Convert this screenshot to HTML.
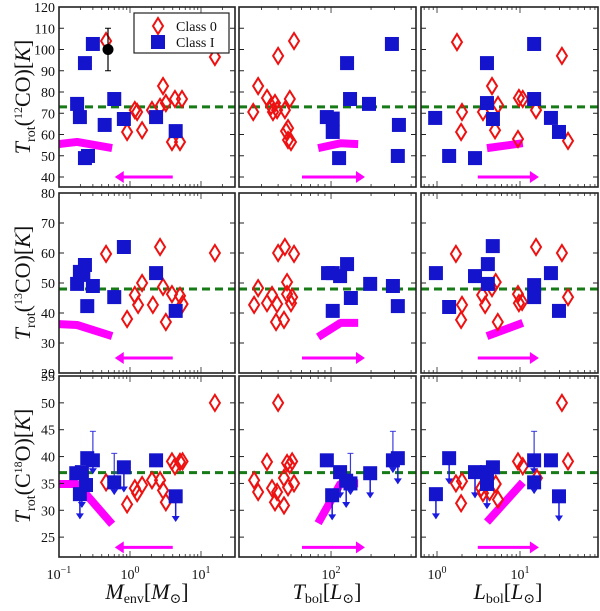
<!DOCTYPE html>
<html><head><meta charset="utf-8"><style>
body{margin:0;background:#fff;}
svg text{font-family:"Liberation Serif","DejaVu Serif",serif;fill:#111;}
</style></head><body>
<svg id="chart" width="600" height="606" viewBox="0 0 600 606" xmlns="http://www.w3.org/2000/svg">
<g id="layer"></g>
</svg>
<script>
// ---------- data ----------
// Row 1: 12CO
const p11_c0_x=[0.46,0.91,1.17,1.26,1.48,2.04,2.65,2.92,3.2,3.9,4.3,5.06,5.4,15.7];
const p11_c0_y=[104,61.2,71.5,70.6,62,71.5,73,82.8,74.8,56.5,76.7,56.5,76.7,96.5];
const p11_c1_x=[0.18,0.197,0.232,0.232,0.256,0.3,0.44,0.6,0.82,2.33,4.4];
const p11_c1_y=[74.4,68.2,93.6,48.9,49.9,102.6,64.5,76.7,67.3,68.2,61.6];
const p12_c0_x=[26,28.3,33,35.4,36.6,37.9,39.3,40,45,45.9,47.5,47.5,50,49,52.7];
const p12_c0_y=[70.6,82.8,77.2,73.4,70.6,74.8,71.5,97,71.5,61.6,63,57.4,56.5,76.7,104];
const p12_c1_x=[93,103,103,115,132,139,193,287,324,318];
const p12_c1_y=[68.2,67.5,61.2,48.9,93.6,76.7,74.4,102.6,64.5,49.9];
const p13_c0_x=[1.74,2.0,1.95,3.58,4.6,5.0,5.43,9.46,9.7,10.8,15.6,32,37.9];
const p13_c0_y=[103.5,70.6,61.2,70.6,82.8,62,73.9,57.9,77.2,76.7,71.5,97,57];
const p13_c1_x=[0.95,1.4,2.87,4.0,4.0,4.72,14.8,14.8,23.6,29.5];
const p13_c1_y=[67.8,49.9,48.9,93.6,74.8,67.3,102.6,76.7,67.8,61.2];
// Row 2: 13CO
const p21_c0_x=[0.46,0.91,1.17,1.3,1.48,2.1,2.65,2.92,3.2,3.9,5.06,5.5,15.7];
const p21_c0_y=[59.7,38,46,42.7,50,42.7,62,48.7,37,46.3,45.7,43,60];
const p21_c1_x=[0.18,0.197,0.232,0.22,0.25,0.3,0.6,0.82,2.33,4.4];
const p21_c1_y=[49.7,53.7,56,52.7,42.3,49,45.3,62,53.3,40.7];
const p22_c0_x=[26.4,28.3,33,36,39.3,38.6,40,44.3,45,46.7,46.7,50,51,52.7];
const p22_c0_y=[42.7,48.3,43.3,46,43,37,60,37.7,62,50.3,46.3,43.3,45.3,59.7];
const p22_c1_x=[95,103,117,132,103,141,197,292,318];
const p22_c1_y=[53.3,53.3,52.3,56.3,40.7,45,49.7,49,42.3];
const p23_c0_x=[1.69,2.0,1.95,3.5,3.8,4.6,5.1,5.4,9.46,9.7,10.6,15.6,32,37.9];
const p23_c0_y=[59.7,42.7,37.7,46,42.7,48.3,50.3,37,46.3,43.3,43.7,62,60,45.3];
const p23_c1_x=[0.97,1.4,2.87,4.1,4.1,4.7,14.8,14.8,23.6,29.5];
const p23_c1_y=[53.3,42,52.3,56.3,49.7,62.3,49.3,45.3,53.3,40.7];
// Row 3: C18O (class I: value, lower arrow end, upper error end)
const p31_c0_x=[0.46,0.91,1.17,1.26,1.48,2.04,2.65,2.92,3.2,3.9,4.3,5.06,5.5,15.7];
const p31_c0_y=[35.2,31.1,34.1,33.2,34.7,35.6,35.6,33.7,31.5,39.1,38.2,39,39.1,50];
const p31_c1_x=[0.175,0.21,0.197,0.24,0.25,0.3,0.6,0.82,2.33,4.4];
const p31_c1_y=[36.9,37.1,33,34.7,39.7,39.3,35.2,38,39.3,32.6];
const p31_c1_lo=[null,30.6,28.5,null,null,36.9,33,33.5,null,28];
const p31_c1_hi=[null,null,null,null,null,44.7,40.6,null,null,null];
const p32_c0_x=[26.4,28.3,33,36,39.3,37.9,40,44.3,44.3,46.7,47.5,49,51,52.7];
const p32_c0_y=[35.6,33.4,39,34.1,33.4,31.5,50,30.9,36,38.8,34.3,38.4,39.1,35];
const p32_c1_x=[93,117,102,130,140,197,292,318];
const p32_c1_y=[39.3,37.1,32.8,35.5,35,36.9,39.3,39.7];
const p32_c1_lo=[null,32.4,28.3,30.6,33,32.4,37.1,35];
const p32_c1_hi=[null,null,null,null,40.6,null,44.7,null];
const p33_c0_x=[1.69,2.0,1.95,3.4,3.58,4.3,5.1,5.43,9.46,10.8,16,32,37.9];
const p33_c0_y=[35,35.4,31.3,34.1,33.2,33.4,34.9,32,39.1,38.2,36,50,39.1];
const p33_c1_x=[0.97,1.4,2.87,4.0,4.0,4.72,14.8,14.8,23.6,29.5];
const p33_c1_y=[33,39.7,37.1,37.1,34.9,38,39.3,35.2,39.3,32.6];
const p33_c1_lo=[28.5,35,32.4,30.4,33.7,null,36.9,33.2,null,28.1];
const p33_c1_hi=[null,null,null,null,null,null,44.7,null,null,null];
// model bands and arrows
const band_col1_x=[0.1,0.18,0.56], band_col2_x=[80,118,160], band_col3_x=[4.0,10.8];
const band_r1c1_y=[55.5,56.5,53.6], band_r1c2_y=[53.6,55.9,55.5], band_r1c3_y=[53.6,55.9];
const band_r2c1_y=[36.3,36,32.3], band_r2c2_y=[32,36.7,36.7], band_r2c3_y=[32.3,36.7];
const band_r3c1_y=[34.9,34.9,27.4], band_r3c2_y=[27.6,35,35], band_r3c3_y=[27.8,35.2];
const arrow_x=[[4.0,0.61],[60.5,180],[3.1,16.9]];
const arrow_y=[40,25,23.1];
const mean_y=[73,48,37];
const ref_point_x=[0.49], ref_point_y=[100], ref_point_err=[10];
const yTicks=[[40,50,60,70,80,90,100,110,120],[20,30,40,50,60,70,80],[25,30,35,40,45,50,55]];
const xTickExp=[[-1,0,1],[2],[0,1]];
// ---------- layout ----------
const cols=[[59,235],[239,416],[421,598]];
const rows=[[7,187],[193,373],[376,557]];
const xDom=[[-1,1.479],[1.308,2.639],[-0.193,1.94]];
const yDom=[[35.3,120],[20,80],[21.3,55]];
const NS='http://www.w3.org/2000/svg';
const layer=document.getElementById('layer');
function mk(tag,attrs,parent){const e=document.createElementNS(NS,tag);for(const k in attrs)e.setAttribute(k,attrs[k]);(parent||layer).appendChild(e);return e;}
function xs(c,v){const d=xDom[c];return cols[c][0]+(Math.log10(v)-d[0])/(d[1]-d[0])*(cols[c][1]-cols[c][0]);}
function ys(r,v){const d=yDom[r];return rows[r][1]-(v-d[0])/(d[1]-d[0])*(rows[r][1]-rows[r][0]);}
const RED='#ee1111',BLUE='#1414cc',MAG='#ff00ff';
function diamond(g,x,y){const p=mk('polygon',{points:`${x},${y-8} ${x+5},${y} ${x},${y+8} ${x-5},${y}`,fill:'none',stroke:RED,'stroke-width':2},g);

}
function square(g,x,y){const s=mk('rect',{x:x-7,y:y-7,width:14,height:14,fill:BLUE},g);

}
const panels={
'11':[p11_c0_x,p11_c0_y,p11_c1_x,p11_c1_y],'12':[p12_c0_x,p12_c0_y,p12_c1_x,p12_c1_y],'13':[p13_c0_x,p13_c0_y,p13_c1_x,p13_c1_y],
'21':[p21_c0_x,p21_c0_y,p21_c1_x,p21_c1_y],'22':[p22_c0_x,p22_c0_y,p22_c1_x,p22_c1_y],'23':[p23_c0_x,p23_c0_y,p23_c1_x,p23_c1_y],
'31':[p31_c0_x,p31_c0_y,p31_c1_x,p31_c1_y,p31_c1_lo,p31_c1_hi],'32':[p32_c0_x,p32_c0_y,p32_c1_x,p32_c1_y,p32_c1_lo,p32_c1_hi],'33':[p33_c0_x,p33_c0_y,p33_c1_x,p33_c1_y,p33_c1_lo,p33_c1_hi]};
const bandX=[band_col1_x,band_col2_x,band_col3_x];
const bandY=[[band_r1c1_y,band_r1c2_y,band_r1c3_y],[band_r2c1_y,band_r2c2_y,band_r2c3_y],[band_r3c1_y,band_r3c2_y,band_r3c3_y]];
for(let r=0;r<3;r++)for(let c=0;c<3;c++){
 const g=mk('g',{});
 
 
 const [x0,x1]=cols[c],[y0,y1]=rows[r];
 const clipId='clip'+r+c;
 const cp=mk('clipPath',{id:clipId},g);mk('rect',{x:x0,y:y0,width:x1-x0,height:y1-y0},cp);
 const inner=mk('g',{'clip-path':`url(#${clipId})`},g);
 yTicks[r].forEach(t=>{const y=ys(r,t);if(y<y0-1||y>y1+1)return;
  mk('line',{x1:x0,x2:x0+5,y1:y,y2:y,stroke:'#222','stroke-width':1},g);
  mk('line',{x1:x1-5,x2:x1,y1:y,y2:y,stroke:'#222','stroke-width':1},g);
  if(c===0){const tl=mk('text',{x:x0-4,y:y+5,'text-anchor':'end','font-size':14},g);tl.textContent=t;
   
   }
 });
 for(let e=-2;e<4;e++)for(let m=1;m<10;m++){const v=m*Math.pow(10,e);const lx=Math.log10(v);
  if(lx<xDom[c][0]||lx>xDom[c][1])continue;const x=xs(c,v);const L=m===1?6:3;
  mk('line',{x1:x,x2:x,y1:y1,y2:y1-L,stroke:'#222','stroke-width':0.8},g);
  mk('line',{x1:x,x2:x,y1:y0,y2:y0+L,stroke:'#222','stroke-width':0.8},g);}
 if(r===2){xTickExp[c].forEach(e=>{const x=xs(c,Math.pow(10,e));
  const tl=mk('text',{x:x,y:579,'text-anchor':'middle','font-size':14},g);
  
  
  tl.appendChild(document.createTextNode('10'));const sp=mk('tspan',{dy:-6,'font-size':10},tl);sp.textContent=String(e).replace('-','\u2212');});}
 const my=ys(r,mean_y[r]);
 const ml=mk('line',{x1:x0,x2:x1,y1:my,y2:my,stroke:'#167a16','stroke-width':3,'stroke-dasharray':'8,5'},inner);
 
 
 const bx=bandX[c],by=bandY[r][c];
 const band=mk('polyline',{points:bx.map((v,i)=>xs(c,v)+','+ys(r,by[i])).join(' '),fill:'none',stroke:MAG,'stroke-width':8,'stroke-linejoin':'bevel'},inner);
 
 
 const ax0=xs(c,arrow_x[c][0]),ax1=xs(c,arrow_x[c][1]),ay=ys(r,arrow_y[r]);const dir=Math.sign(ax1-ax0);
 const ar=mk('g',{},inner);
 
 
 mk('line',{x1:ax0,x2:ax1-dir*8,y1:ay,y2:ay,stroke:MAG,'stroke-width':3},ar);
 mk('polygon',{points:`${ax1},${ay} ${ax1-dir*9},${ay-6} ${ax1-dir*9},${ay+6}`,fill:MAG},ar);
 const d=panels[''+(r+1)+(c+1)];
 if(d[4]){d[2].forEach((v,i)=>{const x=xs(c,v),y=ys(r,d[3][i]);
  if(d[5][i]!=null){const yh=ys(r,d[5][i]);mk('line',{x1:x,x2:x,y1:y,y2:yh,stroke:'#3a3ae0','stroke-width':1.2},inner);mk('line',{x1:x-3,x2:x+3,y1:yh,y2:yh,stroke:'#3a3ae0','stroke-width':1},inner);}
  if(d[4][i]!=null){const yl=ys(r,d[4][i]);mk('line',{x1:x,x2:x,y1:y,y2:yl,stroke:'#1a1ae0','stroke-width':1.5},inner);mk('polygon',{points:`${x-4},${yl-5} ${x+4},${yl-5} ${x},${yl+1}`,fill:'#1a1ae0'},inner);}});}
 d[0].forEach((v,i)=>diamond(inner,xs(c,v),ys(r,d[1][i])));
 d[2].forEach((v,i)=>square(inner,xs(c,v),ys(r,d[3][i])));
 if(r===0&&c===0){const px=xs(0,ref_point_x[0]),py=ys(0,ref_point_y[0]);
  const ey1=ys(0,ref_point_y[0]+ref_point_err[0]),ey2=ys(0,ref_point_y[0]-ref_point_err[0]);
  const rp=mk('g',{},inner);
  
  
  mk('line',{x1:px,x2:px,y1:ey1,y2:ey2,stroke:'#000','stroke-width':1.2},rp);
  mk('line',{x1:px-3,x2:px+3,y1:ey1,y2:ey1,stroke:'#000'},rp);mk('line',{x1:px-3,x2:px+3,y1:ey2,y2:ey2,stroke:'#000'},rp);
  mk('circle',{cx:px,cy:py,r:5.5,fill:'#000'},rp);}
 const fr=mk('rect',{x:x0,y:y0,width:x1-x0,height:y1-y0,fill:'none',stroke:'#222','stroke-width':1.6},g);
 
 
}
</script>
<script>
(function(){
const svg=document.getElementById('chart');
svg.insertAdjacentHTML('beforeend',`
<g>
 <rect x="134" y="13" width="95" height="40" fill="#fff" stroke="#222" stroke-width="1.2"/>
 <polygon points="158,18 163,26 158,34 153,26" fill="none" stroke="#ee1111" stroke-width="2"/>
 <text x="176" y="31" font-size="14">Class 0</text>
 <rect x="151" y="35" width="14" height="14" fill="#1414cc"/>
 <text x="176" y="47" font-size="14">Class I</text>
</g>
<text transform="translate(30,97) rotate(-90)" text-anchor="middle" font-size="22"><tspan font-style="italic">T</tspan><tspan font-size="14" dy="5">rot</tspan><tspan dy="-5">(</tspan><tspan font-size="12" dy="-8">12</tspan><tspan dy="8">CO)[</tspan><tspan font-style="italic">K</tspan>]</text>
<text transform="translate(30,283) rotate(-90)" text-anchor="middle" font-size="22"><tspan font-style="italic">T</tspan><tspan font-size="14" dy="5">rot</tspan><tspan dy="-5">(</tspan><tspan font-size="12" dy="-8">13</tspan><tspan dy="8">CO)[</tspan><tspan font-style="italic">K</tspan>]</text>
<text transform="translate(30,466) rotate(-90)" text-anchor="middle" font-size="22"><tspan font-style="italic">T</tspan><tspan font-size="14" dy="5">rot</tspan><tspan dy="-5">(C</tspan><tspan font-size="12" dy="-8">18</tspan><tspan dy="8">O)[</tspan><tspan font-style="italic">K</tspan>]</text>
<text x="147" y="599" text-anchor="middle" font-size="22"><tspan font-style="italic">M</tspan><tspan font-size="14" dy="4">env</tspan><tspan dy="-4">[</tspan><tspan font-style="italic">M</tspan><tspan font-size="14" dy="4">⊙</tspan><tspan dy="-4">]</tspan></text>
<text x="327" y="599" text-anchor="middle" font-size="22"><tspan font-style="italic">T</tspan><tspan font-size="14" dy="4">bol</tspan><tspan dy="-4">[</tspan><tspan font-style="italic">L</tspan><tspan font-size="14" dy="4">⊙</tspan><tspan dy="-4">]</tspan></text>
<text x="508" y="599" text-anchor="middle" font-size="22"><tspan font-style="italic">L</tspan><tspan font-size="14" dy="4">bol</tspan><tspan dy="-4">[</tspan><tspan font-style="italic">L</tspan><tspan font-size="14" dy="4">⊙</tspan><tspan dy="-4">]</tspan></text>`);
})();
</script>
</body></html>
